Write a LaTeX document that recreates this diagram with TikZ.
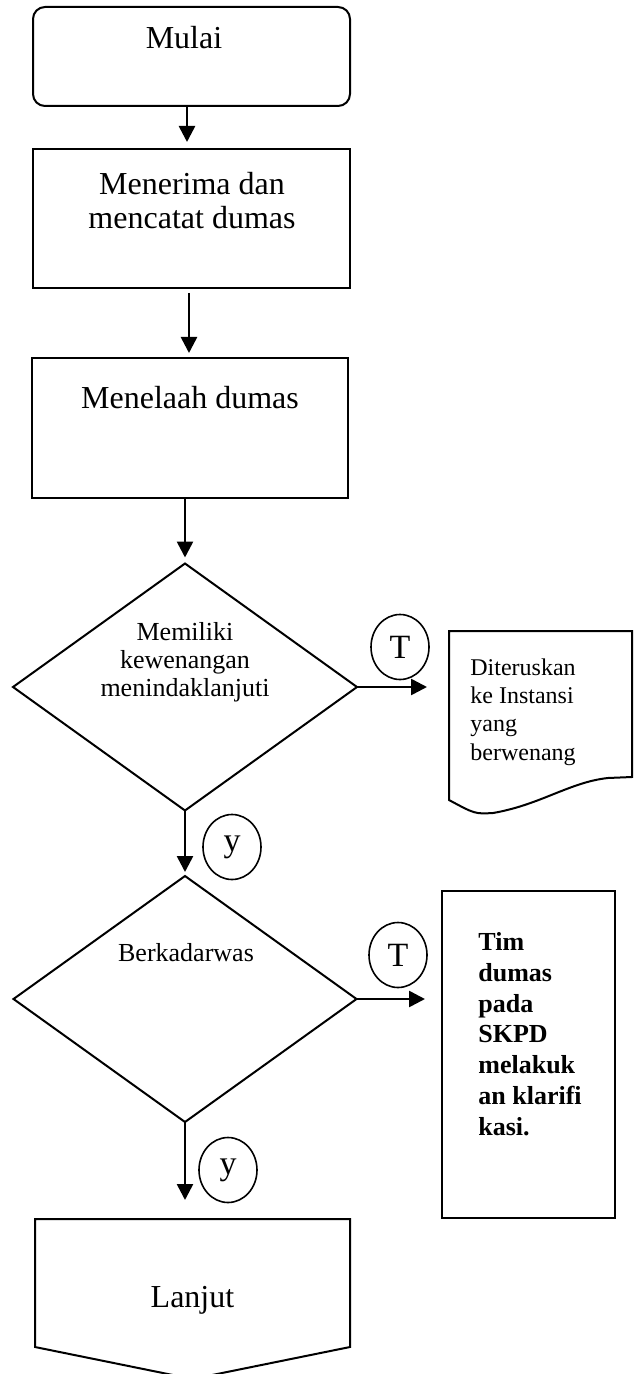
\documentclass[tikz,border=0pt]{standalone}
\usepackage{fontspec}
\setmainfont{Liberation Serif}
\usetikzlibrary{shapes.geometric,arrows.meta}
\tikzset{
  box/.style={draw, line width=1pt, inner sep=0pt, outer sep=0pt},
  holder/.style={inner sep=0pt, outer sep=0pt},
  circ/.style={draw, ellipse, line width=0.8pt, minimum width=29pt, minimum height=32.5pt, inner sep=0pt, font=\fontsize{17}{20}\selectfont},
  lbl/.style={inner sep=0pt, anchor=north, align=center},
  flow/.style={->, line width=1.3pt}
}

\begin{document}
\begin{tikzpicture}[x=0.5pt, y=-0.5pt, >={Triangle[length=8pt,width=8pt]}]
    \useasboundingbox (0, 0) rectangle (634, 1374);
    \node[box, rounded corners=6pt, minimum width=158.5pt, minimum height=49.5pt] (mulai) at (191.5, 56.5) {};
    \node[box, minimum width=158.5pt, minimum height=69.5pt] (terima) at (191.5, 218.5) {};
    \node[box, minimum width=158pt, minimum height=70pt] (telaah) at (190, 428) {};
    \node[box, diamond, minimum width=172pt, minimum height=123.5pt] (d1) at (185, 687) {};
    \node[box, diamond, minimum width=171.5pt, minimum height=123pt] (d2) at (185, 999) {};
    \node[holder, minimum width=91.5pt, minimum height=84.5pt] (doc) at (540.5, 715.5) {};
    \node[box, minimum width=86.5pt, minimum height=163.5pt] (tim) at (528.5, 1054.5) {};
    \node[holder, minimum width=157.5pt, minimum height=64pt] (lanjut) at (192.5, 1283) {};
    \draw [line width=1pt] (doc.north west) -- (doc.north east) -- (632, 777) -- (608, 778)
        .. controls (570, 782) and (540, 805) .. (493, 813)
        .. controls (475, 814) .. (doc.south west) -- cycle;
    \draw [line width=1pt] (lanjut.north west) -- (lanjut.north east) -- (lanjut.south east)
        -- (192.5, 1379) -- (lanjut.south west) -- cycle;

    \node[lbl, font=\fontsize{16}{17}\selectfont] (mulaitxt) at (184, 26) {Mulai};
    \node[lbl, font=\fontsize{16}{17}\selectfont] (terimatxt) at (192, 172) {Menerima dan\\mencatat dumas};
    \node[lbl, font=\fontsize{16}{17}\selectfont] (telaahtxt) at (190, 386) {Menelaah dumas};
    \node[lbl, font=\fontsize{13}{14}\selectfont] (d1txt) at (185, 622) {Memiliki\\kewenangan\\menindaklanjuti};
    \node[inner sep=0pt, font=\fontsize{13}{14}\selectfont] (d2txt) at (186, 953) {Berkadarwas};
    \node[lbl, anchor=north west, align=left, font=\fontsize{12}{14.2}\selectfont] (doctxt) at (470, 658) {Diteruskan\\ke Instansi\\yang\\berwenang};
    \node[lbl, anchor=north west, align=left, font=\fontsize{13}{15.4}\selectfont\bfseries] (timtxt) at (478, 932) {Tim\\dumas\\pada\\SKPD\\melakuk\\an klarifi\\kasi.};
    \node[lbl, font=\fontsize{16}{17}\selectfont] (lanjuttxt) at (192.5, 1286) {Lanjut};

    \node[circ] (t1) at (400, 647) {T};
    \node[circ] (y1) at (232, 847) {y};
    \node[circ] (t2) at (398, 955) {T};
    \node[circ] (y2) at (228, 1170) {y};

    \draw [flow, shorten >=3.5pt] (mulai.south -| 187, 0) to (terima.north -| 187, 0);
    \draw [flow, shorten <=2.5pt, shorten >=2.5pt] (terima.south -| 189, 0) to (telaah.north -| 189, 0);
    \draw [flow, shorten >=3pt] (telaah.south -| d1.north) to (d1.north);
    \draw [flow, shorten >=2pt] (d1.south) to (d2.north);
    \draw [flow, shorten >=9.5pt] (d2.south) to (d2.south |- lanjut.north);
    \draw [flow, shorten >=11pt] (d1.east) to (doc.west |- d1.east);
    \draw [flow, shorten >=8.5pt] (d2.east) to (tim.west |- d2.east);
  \end{tikzpicture}
\end{document}
